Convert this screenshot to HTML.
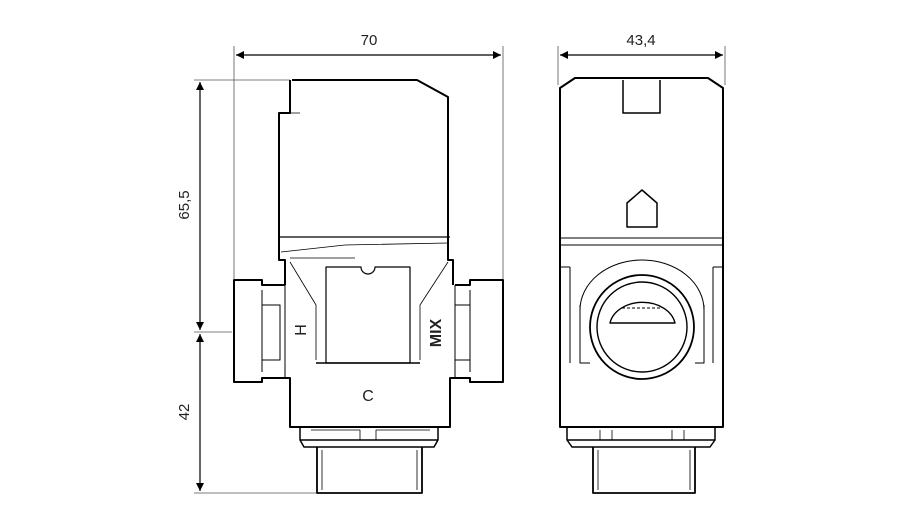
<!DOCTYPE html>
<html><head><style>body{margin:0;background:#fff}svg{display:block}</style></head><body>
<svg width="903" height="527" viewBox="0 0 903 527" xmlns="http://www.w3.org/2000/svg" font-family="Liberation Sans, sans-serif">
<defs><marker id="a" viewBox="0 0 10 10" refX="10" refY="5" markerWidth="14" markerHeight="8" markerUnits="userSpaceOnUse" orient="auto-start-reverse"><path d="M0,0L10,5L0,10z" fill="#000"/></marker></defs>
<g stroke="#555" stroke-width="0.8" fill="none">
<line x1="234" y1="46" x2="234" y2="282"/><line x1="503" y1="46" x2="503" y2="282"/>
<line x1="558" y1="46" x2="558" y2="85"/><line x1="725" y1="46" x2="725" y2="85"/>
<line x1="194" y1="80" x2="290" y2="80"/><line x1="194" y1="332" x2="232" y2="332"/><line x1="194" y1="493" x2="318" y2="493"/>
</g>
<g stroke="#000" stroke-width="1.2">
<line x1="236" y1="55" x2="501" y2="55" marker-start="url(#a)" marker-end="url(#a)"/>
<line x1="560" y1="55" x2="723" y2="55" marker-start="url(#a)" marker-end="url(#a)"/>
<line x1="200" y1="82" x2="200" y2="330" marker-start="url(#a)" marker-end="url(#a)"/>
<line x1="200" y1="334" x2="200" y2="491" marker-start="url(#a)" marker-end="url(#a)"/>
</g>
<g font-size="15" fill="#222" text-anchor="middle">
<text x="369" y="45">70</text><text x="641" y="45">43,4</text>
<text transform="translate(189,205) rotate(-90)">65,5</text>
<text transform="translate(189,412) rotate(-90)">42</text>
</g>
<g fill="none" stroke="#000" stroke-width="2" stroke-linejoin="round">
<!-- left actuator -->
<path d="M292,80H417L448,97V260H453V285M290,80L290,113H279V260H285V285"/>
<path d="M280,237H450" stroke-width="1.2"/>
<path d="M281,252L345,245L448,243" stroke-width="0.8"/>
<path d="M290,258H355" stroke-width="0.8"/>
<path d="M279,113H300" stroke-width="0.8"/>
<!-- body -->
<path d="M285,285H262V280H234V382H262V378H290V427H450V378H470V382H503V280H470V285H455"/>
<path d="M262,290V372M470,290V372" stroke-width="1"/>
<path d="M262,305H280V360H262M470,305H455V360H470" stroke-width="1"/>
<path d="M285,285V378M455,285V378" stroke-width="1"/>
<path d="M290,262L316,305V360M448,262L420,305V360" stroke-width="0.8"/>
<path d="M326,363V267H361A7,7 0 0 0 375,267H410V363Z" stroke-width="1.2"/>
<path d="M316,363H420" stroke-width="1.5"/>
<path d="M300,427V440H438V427M300,440L304,447H434L438,440" stroke-width="1.5"/>
<path d="M311,430H360V440M376,440V430H430" stroke-width="0.8"/>
<path d="M317,447V493H422V447" stroke-width="1.8"/>
<path d="M322,450V490M417,450V490" stroke-width="0.8"/>
<!-- right view -->
<path d="M560,88L575,78H708L723,88V427H560Z"/>
<path d="M560,238H723M560,245H723" stroke-width="1"/>
<path d="M623,80V113H660V80" stroke-width="1.5"/>
<path d="M627,203L642,190L657,203V227H627Z" stroke-width="1.5"/>
<path d="M570,267V363M713,267V363M560,267H570M713,267H723" stroke-width="1"/>
<path d="M580,310A62,50 0 0 1 704,310" stroke-width="1"/>
<path d="M580,305V363H590M704,305V363H695" stroke-width="1"/>
<circle cx="642" cy="327" r="52" stroke-width="1.8"/>
<circle cx="642" cy="327" r="45" stroke-width="1.4"/>
<path d="M610,323A33,25 0 0 1 675,323Z" stroke-width="1.4"/>
<path d="M622,308H662" stroke-width="1" stroke-dasharray="3,2"/>
<path d="M567,427V440H715V427M567,440L572,447H710L715,440" stroke-width="1.5"/>
<path d="M600,430V440M612,430V440M672,430V440M684,430V440" stroke-width="0.8"/>
<path d="M593,447V493H695V447" stroke-width="1.8"/>
<path d="M598,450V490M690,450V490" stroke-width="0.8"/>
</g>
<g font-size="16" fill="#222" text-anchor="middle" font-weight="bold">
<text transform="translate(306,330) rotate(-90)" font-weight="normal">H</text>
<text transform="translate(441,333) rotate(-90)">MIX</text>
<text x="368" y="401" font-weight="normal">C</text>
</g>
</svg>
</body></html>
